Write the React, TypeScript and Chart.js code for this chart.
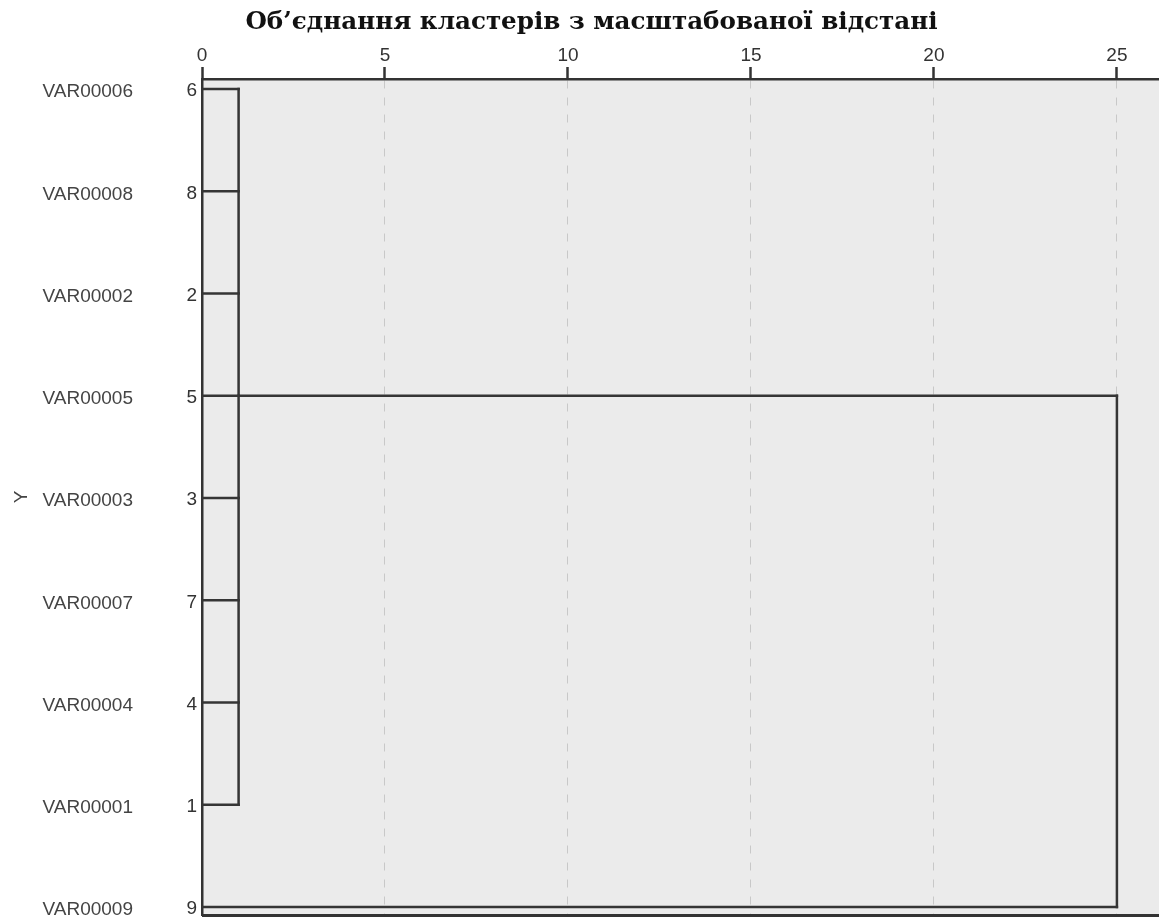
import React, { useEffect, useRef } from 'react';
import { Chart, registerables } from 'chart.js';

Chart.register(...registerables);

const TITLE = 'Об’єднання кластерів з масштабованої відстані';
const Y_TITLE = 'Y';
const leafLabels = ['VAR00006', 'VAR00008', 'VAR00002', 'VAR00005', 'VAR00003', 'VAR00007', 'VAR00004', 'VAR00001', 'VAR00009'];
const leafIds = ['6', '8', '2', '5', '3', '7', '4', '1', '9'];
const leafJoinDistance = [1, 1, 1, 1, 1, 1, 1, 1, 25];
const xTicks = [0, 5, 10, 15, 20, 25];
const X_MIN = 0;
const X_MAX = 26.15;
const Y_MIN = -0.098;
const Y_MAX = 8.078;
// first cluster: rows 0..7 joined at distance 1, linked onward from row 3
const clusterRows = [0, 7];
const clusterDistance = 1;
const clusterLinkRow = 3;
// final merge at distance 25 between link row and row 8
const finalRows = [3, 8];
const finalDistance = 25;

const LINE_COLOR = '#353535';

const App: React.FC = () => {
  const canvasRef = useRef<HTMLCanvasElement | null>(null);

  useEffect(() => {
    const canvas = canvasRef.current;
    if (!canvas) return;

    const segments: { x: number; y: number }[][] = [];
    leafJoinDistance.forEach((d, i) => {
      segments.push([{ x: 0, y: i }, { x: d, y: i }]);
    });
    segments.push([{ x: clusterDistance, y: clusterRows[0] }, { x: clusterDistance, y: clusterRows[1] }]);
    segments.push([{ x: clusterDistance, y: clusterLinkRow }, { x: finalDistance, y: clusterLinkRow }]);
    segments.push([{ x: finalDistance, y: finalRows[0] }, { x: finalDistance, y: finalRows[1] }]);

    const datasets = segments.map((seg) => ({
      data: seg,
      borderColor: LINE_COLOR,
      borderWidth: 2.5,
      pointRadius: 0,
      fill: false,
      tension: 0,
      xAxisID: 'x',
      yAxisID: 'yNum',
      borderCapStyle: 'square' as const,
    }));

    const plotBg = {
      id: 'plotBg',
      beforeDraw(chart: any) {
        const { ctx, chartArea } = chart;
        const { left, top, right, bottom } = chartArea;
        ctx.save();
        ctx.fillStyle = '#ebebeb';
        ctx.fillRect(left, top, right - left, bottom - top);
        ctx.restore();
      },
      afterDraw(chart: any) {
        const { ctx, chartArea } = chart;
        const { left, right, bottom } = chartArea;
        ctx.save();
        ctx.strokeStyle = '#333';
        ctx.lineWidth = 3;
        ctx.beginPath();
        ctx.moveTo(left, bottom + 0.5);
        ctx.lineTo(right, bottom + 0.5);
        ctx.stroke();
        ctx.restore();
      },
    };

    const sans = 'Liberation Sans, Arial, sans-serif';
    const noPad = (s: any) => {
      s.paddingTop = 0;
      s.paddingBottom = 0;
      s.paddingLeft = 0;
      s.paddingRight = 0;
    };

    const chart = new Chart(canvas, {
      type: 'line',
      data: { datasets: datasets as any },
      plugins: [plotBg],
      options: {
        responsive: false,
        animation: false,
        layout: { padding: { left: 24, right: 0, top: 0, bottom: 2 } },
        plugins: {
          legend: { display: false },
          tooltip: { enabled: false },
          title: {
            display: true,
            text: TITLE,
            color: '#111',
            font: { family: 'DejaVu Serif', size: 24.6, weight: 'bold' },
            padding: { top: 8, bottom: 4 },
          },
        },
        scales: {
          x: {
            type: 'linear',
            position: 'top',
            min: X_MIN,
            max: X_MAX,
            afterBuildTicks: (s: any) => {
              s.ticks = xTicks.map((v) => ({ value: v }));
            },
            afterFit: (s: any) => {
              s.height = 79 - (8 + 4 + 24.6 * 1.2);
              noPad(s);
            },
            grid: {
              color: '#c8c8c8',
              lineWidth: 1,
              drawTicks: true,
              tickLength: 12,
              tickColor: '#333',
              tickWidth: 2.5,
            },
            border: { display: true, color: '#333', width: 2.5, dash: [8, 9] },
            ticks: {
              color: '#333',
              font: { family: sans, size: 19 },
              padding: 0,
              maxRotation: 0,
              callback: (v: any) => String(v),
            },
          },
          yNum: {
            type: 'linear',
            position: 'left',
            reverse: true,
            min: Y_MIN,
            max: Y_MAX,
            weight: 0,
            afterBuildTicks: (s: any) => {
              s.ticks = leafIds.map((_, i) => ({ value: i }));
            },
            afterFit: (s: any) => {
              s.width = 52;
              noPad(s);
            },
            grid: { display: true, drawOnChartArea: false, drawTicks: false },
            border: { display: true, color: '#333', width: 2.5 },
            ticks: {
              color: '#333',
              font: { family: sans, size: 19 },
              padding: 5,
              labelOffset: 2,
              callback: (v: any) => leafIds[Math.round(Number(v))] ?? '',
            },
          },
          yVar: {
            type: 'linear',
            position: 'left',
            reverse: true,
            min: Y_MIN,
            max: Y_MAX,
            weight: 1,
            afterBuildTicks: (s: any) => {
              s.ticks = leafLabels.map((_, i) => ({ value: i }));
            },
            afterFit: (s: any) => {
              s.width = 126;
              noPad(s);
            },
            grid: { display: false, drawTicks: false },
            border: { display: false },
            title: {
              display: true,
              text: Y_TITLE,
              color: '#444',
              font: { family: sans, size: 19 },
              padding: { top: -14, bottom: 0 },
            },
            ticks: {
              color: '#444',
              font: { family: sans, size: 19 },
              padding: 17,
              labelOffset: 3,
              callback: (v: any) => leafLabels[Math.round(Number(v))] ?? '',
            },
          },
        },
      } as any,
    });

    return () => {
      chart.destroy();
    };
  }, []);

  return (
    <div style={{ position: 'fixed', left: 0, top: 0, width: 1159, height: 917, background: '#fff' }}>
      <canvas ref={canvasRef} width={1159} height={917} style={{ display: 'block', width: 1159, height: 917 }} />
    </div>
  );
};

export default App;
